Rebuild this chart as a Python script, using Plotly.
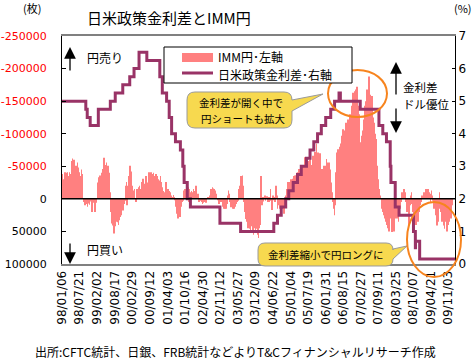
import plotly.graph_objects as go
import pandas as pd

# ---------------- data ----------------
# IMM yen net non-commercial positions, weekly from 1998-01-06 (thousand contracts; negative = yen short)
imm_1998 = [-38,-23,-26,-30,-33,-41,-28,-36,-40,-41,-30,-35,-41,-38,
            -32,-45,-58,-62,-55,-60,-31,-40,
            -51,-46,-35,-56,-48,-41,-31,-30,
            -35,-45,-38,-30,
            0,5,8,10,6,3,8,12,7,5,9,4,3,8,20,10,6,4]
imm_1999 = [10,20,6,4,0,
            -25,-33,-30,-28,-36,-32,-40,-38,-46,
            -50,-63,-58,-46,-52,-56,-48,-51,-44,
            -40,-30,-10,
            20,30,38,41,45,53,48,42,35,32,30,36,40,33,30,28,25,22,15,18,12,8,6,3,
            -20,-26]
imm_2000 = [10,-20,
            -26,-35,-46,-51,-42,-30,-20,-10,
            -13,-8,-15,3,5,-6,-15,
            -10,-18,-12,-20,-8,-15,
            -22,-26,-31,-28,-20,-23,-30,-35,-28,-20,-25,
            -30,-41,-35,-38,-41,-36,-32,-38,-40,-30,-35,-32,-38,
            -28,-35,-30,-25,-20]
imm_2001 = [-28,-35,-25,-26,-18, -8,-12,-5,-10,-20, -26,-22,-15,-15,-10,
            -12,-8,-10,-5,-3, 0,-2,-6,-3,2, 5,12,15,23,30, 25,18,28,20,12,
            8,5,3, -10,-13,-15,-8,-12, -20,-15,-18,5,-15, -10,3,-8,-12]
imm_2002 = [-10,-5,-15,-8,-12, -6,-20,-10,-5,-8, 0,5,3,0,2, 5,8,6,4,3,
            5,2,6,3,0, -3,0,-2,-5,-8, -15,-12,-18,-14,-16, -15,-10,-13,-8,-5,
            2,0,5,8,3, 2,5,3,8,12,10,15]
imm_2003 = [15,12,15,8,0, -5,-13,-8,5,10, 13,8,12,15,10, 15,12,5,8,5,
            5,3,-5,-15,-20, -25,-35,-30,-36,-20, -10,5,20,25,31, 35,41,45,38,41,
            46,50,42,35,46, 52,55,45,40,48,46,38]
imm_2004 = [50,55,60,45, 40,30,-35,10, 5,-3,4,0,-5, 3,0,-4,2,5, -3,5,-2,-15,3,
            17,5,-5,2, -3,5,-8,-20,-5, 15,10,8,12,15, 20,25,15,8,12,
            23,18,10,5,-5, -15,-20,-26,-18,-22]
imm_2005 = [-26,-20,-30,-25,-31, -28,-35,-31,-36,-30, -36,-40,-33,-41,-46,
            -38,-46,-50,-42,-51, -45,-51,-48,-64,-55, -46,-50,-56,-52,-58,
            -56,-48,-60,-64,-52, -46,-58,-66,-62,-69, -72,-69,-85,-59,-66,
            -71,-60,-54,-70,-58,-46,-40]
imm_2006 = [-36,-46,-51,-41,-36, -51,-61,-48,-56,-50, -56,-41,-45,-30,-25,
            -10,-5,5,15,25, 10,-41,-55,-71,-65, -76,-71,-80,-76,-85,
            -92,-97,-90,-107,-100, -92,-105,-117,-110,-115, -112,-122,-118,-125,-130,
            -122,-143,-135,-150,-163,-155,-160]
imm_2007 = [-165,-168,-150,-172,-160, -143,-130,-110,-87,-80, -97,-90,-105,-122,-115,
            -130,-143,-150,-160,-168, -155,-175,-188,-170,-160, -158,-145,-158,-140,-125,
            -117,-110,-100,-92,-80, -51,-40,-30,-15,-8, -5,0,10,15,20,
            12,25,30,20,35,28,40]
imm_2008 = [45,35,50,42,30, 25,40,51,45,35, 50,38,30,25,20, 30,22,35,18,10,
            15,5,-5,-10,-8, -12,-15,-5,-10,5, 10,20,15,30,40, 25,10,-5,-10,8,
            20,28,35,45,30, 40,30,25,35,28,20,15]
imm_2009 = [10,5,0,-5,-3, -8,-10,-5,-12,-15, -10,-8,-15,-12,-5, -10,5,-8,-13,-5,
            3,10,15,8,20, 25,30,41,35,20, 15,-10,5,20,28, 35,30,25,41,46,
            35,30,45,50,40, 30,25,35,20,30,15,10]

imm_thousands = (imm_1998 + imm_1999 + imm_2000 + imm_2001 + imm_2002 + imm_2003 +
                 imm_2004 + imm_2005 + imm_2006 + imm_2007 + imm_2008 + imm_2009)
imm_values = [v * 1000 for v in imm_thousands]
imm_dates = pd.date_range("1998-01-06", periods=len(imm_values), freq="7D")

# US-Japan policy rate differential (%), change points
rate_dates = ["1998-01-06", "1998-09-29", "1998-10-15", "1998-11-17", "1999-02-16",
              "1999-06-30", "1999-08-24", "1999-11-16", "2000-02-02", "2000-03-21",
              "2000-05-16", "2000-08-11", "2001-01-03", "2001-01-31", "2001-03-20",
              "2001-04-18", "2001-05-15", "2001-06-27", "2001-08-21", "2001-09-17",
              "2001-10-02", "2001-11-06", "2001-12-11", "2002-11-06", "2003-06-25",
              "2004-06-30", "2004-08-10", "2004-09-21", "2004-11-10", "2004-12-14",
              "2005-02-02", "2005-03-22", "2005-05-03", "2005-06-30", "2005-08-09",
              "2005-09-20", "2005-11-01", "2005-12-13", "2006-01-31", "2006-03-28",
              "2006-05-10", "2006-06-29", "2006-07-14", "2007-02-21", "2007-09-18",
              "2007-10-31", "2007-12-11", "2008-01-22", "2008-01-30", "2008-03-18",
              "2008-04-30", "2008-10-08", "2008-10-29", "2008-10-31", "2008-12-16",
              "2010-01-15"]
rate_values = [5.0, 4.75, 4.5, 4.25, 4.75,
               5.0, 5.25, 5.5, 5.75, 6.0,
               6.5, 6.25, 5.75, 5.25, 5.0,
               4.5, 4.0, 3.75, 3.5, 3.0,
               2.5, 2.0, 1.75, 1.25, 1.0,
               1.25, 1.5, 1.75, 2.0, 2.25,
               2.5, 2.75, 3.0, 3.25, 3.5,
               3.75, 4.0, 4.25, 4.5, 4.75,
               5.0, 5.25, 5.0, 4.75, 4.25,
               4.0, 3.75, 3.0, 2.5, 1.75,
               1.5, 1.0, 0.5, 0.7, 0.15,
               0.15]

x_tick_labels = ["98/01/06", "98/07/21", "99/02/02", "99/08/17", "00/02/29", "00/09/12",
                 "01/04/03", "01/10/16", "02/04/30", "02/11/12", "03/05/27", "03/12/09",
                 "04/06/22", "05/01/04", "05/07/19", "06/01/31", "06/08/15", "07/02/27",
                 "07/09/11", "08/03/25", "08/10/07", "09/04/21", "09/11/03"]
x_tick_dates = [pd.to_datetime(s, format="%y/%m/%d") for s in x_tick_labels]

left_ticks = [-250000, -200000, -150000, -100000, -50000, 0, 50000, 100000]
right_ticks = [0, 1, 2, 3, 4, 5, 6, 7]

# ---------------- layout helpers ----------------
L, R, T, B = 62, 455, 36, 264
W, H = R - L, B - T


def px(x):
    return (x - L) / W


def py(y):
    return (B - y) / H


JP = "Noto Sans CJK JP"
PINK = "#FF8080"
PLUM = "#993366"
ORANGE = "#F7841E"
YELLOW = "#F7D94F"

fig = go.Figure()
fig.add_trace(go.Bar(x=imm_dates, y=imm_values, marker=dict(color=PINK, line=dict(width=0)),
                     name="IMM円･左軸"))
fig.add_trace(go.Scatter(x=rate_dates, y=rate_values, yaxis="y2", mode="lines",
                         line=dict(color=PLUM, width=3, shape="hv"), name="日米政策金利差･右軸"))


def ytext(v):
    col = "#FF0000" if v < 0 else "#000000"
    return f"<span style='color:{col}'>{v}</span>"


fig.update_layout(
    width=476, height=364,
    margin=dict(l=L, r=476 - R, t=T, b=364 - B),
    plot_bgcolor="white", paper_bgcolor="white",
    showlegend=False, bargap=0.1,
    xaxis=dict(type="date", range=["1998-01-06", "2010-01-15"],
               tickvals=x_tick_dates, ticktext=x_tick_labels, tickangle=-90,
               tickfont=dict(family="DejaVu Sans", size=12, color="black"),
               showline=True, linecolor="#808080", linewidth=2, mirror=True,
               ticks="", showgrid=False, zeroline=False, automargin=False),
    yaxis=dict(range=[100000, -250000], tickvals=left_ticks,
               ticktext=[ytext(v) for v in left_ticks],
               tickfont=dict(family="DejaVu Sans", size=11, color="black"),
               ticks="inside", ticklen=4, tickcolor="black",
               ticklabelstandoff=12, automargin=False,
               showline=True, linecolor="black", linewidth=1,
               showgrid=False, zeroline=False),
    yaxis2=dict(overlaying="y", side="right", range=[0, 7], tickvals=right_ticks,
                tickfont=dict(family="DejaVu Sans", size=12, color="black"),
                ticks="inside", ticklen=3, tickcolor="black", automargin=False,
                showline=True, linecolor="black", linewidth=1,
                showgrid=False, zeroline=False),
)

shapes = []
# zero line
shapes.append(dict(type="line", xref="paper", yref="y", x0=0, x1=1, y0=0, y1=0,
                   line=dict(color="black", width=1.5), layer="above"))


def callout_path(x0, y0, x1, y1, r, ya, tx, ty, yb):
    P = lambda x, y: f"{px(x):.5f},{py(y):.5f}"
    return (f"M {P(x0 + r, y0)} L {P(x1 - r, y0)} Q {P(x1, y0)} {P(x1, y0 + r)} "
            f"L {P(x1, ya)} L {P(tx, ty)} L {P(x1, yb)} L {P(x1, y1 - r)} "
            f"Q {P(x1, y1)} {P(x1 - r, y1)} L {P(x0 + r, y1)} Q {P(x0, y1)} {P(x0, y1 - r)} "
            f"L {P(x0, y0 + r)} Q {P(x0, y0)} {P(x0 + r, y0)} Z")


for args in [(187, 92, 292, 128, 8, 100, 323, 94, 111),
             (258, 243, 393, 266, 7, 249, 407, 246, 259)]:
    shapes.append(dict(type="path", xref="paper", yref="paper", path=callout_path(*args),
                       fillcolor=YELLOW, line=dict(color="#9A9A9A", width=1), layer="above"))

# ellipses
shapes.append(dict(type="circle", xref="paper", yref="paper",
                   x0=px(328), x1=px(387), y0=py(117), y1=py(70),
                   line=dict(color=ORANGE, width=2), layer="above"))
shapes.append(dict(type="circle", xref="paper", yref="paper",
                   x0=px(407), x1=px(461), y0=py(277), y1=py(202),
                   line=dict(color=ORANGE, width=2), layer="above"))

# legend box
shapes.append(dict(type="rect", xref="paper", yref="paper",
                   x0=px(164), x1=px(352), y0=py(83), y1=py(47),
                   fillcolor="white", line=dict(color="black", width=1), layer="above"))
shapes.append(dict(type="rect", xref="paper", yref="paper",
                   x0=px(182), x1=px(213), y0=py(62), y1=py(53),
                   fillcolor=PINK, line=dict(width=0), layer="above"))
shapes.append(dict(type="line", xref="paper", yref="paper",
                   x0=px(182), x1=px(213), y0=py(73), y1=py(73),
                   line=dict(color=PLUM, width=3), layer="above"))
fig.update_layout(shapes=shapes)

ann = []


def text(s, x, y, size=12, anchor="left", color="black", family=JP):
    ann.append(dict(text=s, x=px(x), y=py(y), xref="paper", yref="paper",
                    xanchor=anchor, yanchor="middle", showarrow=False,
                    font=dict(family=family, size=size, color=color)))


def arrow(x, ytip, ytail):
    ann.append(dict(text="", x=px(x), y=py(ytip), xref="paper", yref="paper",
                    ax=0, ay=ytail - ytip, axref="pixel", ayref="pixel",
                    showarrow=True, arrowhead=2, arrowsize=1.8, arrowwidth=1.3,
                    arrowcolor="black"))


text("日米政策金利差とIMM円", 85, 17, size=15)
text("(枚)", 32, 8, size=11, anchor="center")
text("(%)", 463, 8, size=11, anchor="center")
text("IMM円･左軸", 216, 57, size=12)
text("日米政策金利差･右軸", 216, 74, size=12)
text("円売り", 85, 58, size=12)
text("円買い", 85, 249, size=12)
text("金利差", 401, 87, size=11.5)
text("ドル優位", 401, 104, size=11.5)
text("金利差が開く中で", 241, 102, size=10.5, anchor="center")
text("円ショートも拡大", 243, 118, size=10.5, anchor="center")
text("金利差縮小で円ロングに", 326, 254, size=10.5, anchor="center")
text("出所:CFTC統計、日銀、FRB統計などよりT&amp;Cフィナンシャルリサーチ作成", 33, 351, size=12)
arrow(70, 47, 72)
arrow(70, 264, 242)
arrow(396, 62, 96)
arrow(396, 133, 107)
fig.update_layout(annotations=ann)

fig.write_html("out.html", config={"displayModeBar": False},
               post_script="document.body.style.margin='0';document.body.style.padding='0';")
